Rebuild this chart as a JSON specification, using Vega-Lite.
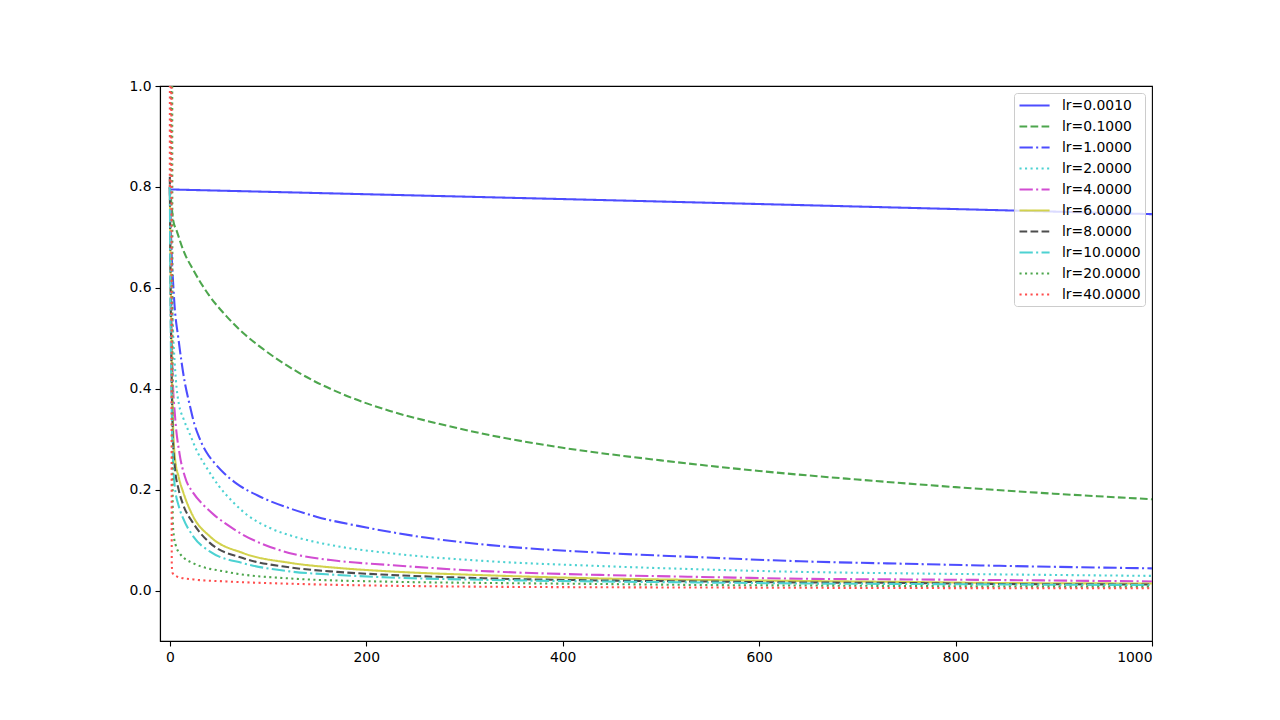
{
  "$schema": "https://vega.github.io/schema/vega-lite/v6.json",
  "width": 992,
  "height": 555,
  "autosize": {"type": "none"},
  "padding": {"left": 160, "top": 86, "right": 128, "bottom": 79},
  "background": "white",
  "config": {
    "view": {"stroke": "black", "strokeWidth": 1.1},
    "font": "DejaVu Sans",
    "axis": {
      "grid": false, "domainColor": "black", "domainWidth": 1.1, "tickColor": "black",
      "tickSize": 5, "tickWidth": 1.1, "labelColor": "black", "labelFontSize": 13.9,
      "labelFont": "DejaVu Sans", "labelPadding": 4, "title": null
    },
    "legend": {
      "orient": "top-right", "offset": 7, "padding": 4, "fillColor": "rgba(255,255,255,0.8)",
      "strokeColor": "#cccccc", "cornerRadius": 3, "symbolType": "M-1,0H3.3", "symbolSize": 196,
      "symbolStrokeWidth": 2.08, "labelFontSize": 13.9, "labelFont": "DejaVu Sans",
      "labelColor": "black", "labelOffset": 27, "rowPadding": 5, "title": null, "labelLimit": 200
    }
  },
  "data": {"values": [
    {"lr":"lr=0.0010","x":0,"y":0.795},{"lr":"lr=0.0010","x":500,"y":0.771},{"lr":"lr=0.0010","x":1000,"y":0.746},

    {"lr":"lr=0.1000","x":0,"y":0.80},{"lr":"lr=0.1000","x":1,"y":0.78},{"lr":"lr=0.1000","x":3.4,"y":0.734},
    {"lr":"lr=0.1000","x":7,"y":0.713},{"lr":"lr=0.1000","x":13.6,"y":0.675},{"lr":"lr=0.1000","x":24,"y":0.635},
    {"lr":"lr=0.1000","x":40,"y":0.585},{"lr":"lr=0.1000","x":58,"y":0.543},{"lr":"lr=0.1000","x":75,"y":0.51},
    {"lr":"lr=0.1000","x":92,"y":0.483},{"lr":"lr=0.1000","x":132,"y":0.431},{"lr":"lr=0.1000","x":175,"y":0.39},
    {"lr":"lr=0.1000","x":224,"y":0.356},{"lr":"lr=0.1000","x":275,"y":0.33},{"lr":"lr=0.1000","x":326,"y":0.308},
    {"lr":"lr=0.1000","x":400,"y":0.283},{"lr":"lr=0.1000","x":500,"y":0.258},{"lr":"lr=0.1000","x":600,"y":0.237},
    {"lr":"lr=0.1000","x":700,"y":0.22},{"lr":"lr=0.1000","x":800,"y":0.205},{"lr":"lr=0.1000","x":900,"y":0.192},
    {"lr":"lr=0.1000","x":1000,"y":0.181},

    {"lr":"lr=1.0000","x":0,"y":0.80},{"lr":"lr=1.0000","x":1,"y":0.72},{"lr":"lr=1.0000","x":2,"y":0.66},
    {"lr":"lr=1.0000","x":3.4,"y":0.609},{"lr":"lr=1.0000","x":5,"y":0.56},{"lr":"lr=1.0000","x":8.5,"y":0.503},
    {"lr":"lr=1.0000","x":15,"y":0.415},{"lr":"lr=1.0000","x":20,"y":0.37},{"lr":"lr=1.0000","x":25,"y":0.33},
    {"lr":"lr=1.0000","x":30,"y":0.303},{"lr":"lr=1.0000","x":37,"y":0.275},{"lr":"lr=1.0000","x":45,"y":0.254},
    {"lr":"lr=1.0000","x":55,"y":0.233},{"lr":"lr=1.0000","x":68,"y":0.212},{"lr":"lr=1.0000","x":92,"y":0.186},
    {"lr":"lr=1.0000","x":122,"y":0.163},{"lr":"lr=1.0000","x":150,"y":0.146},{"lr":"lr=1.0000","x":200,"y":0.125},
    {"lr":"lr=1.0000","x":260,"y":0.105},{"lr":"lr=1.0000","x":326,"y":0.09},{"lr":"lr=1.0000","x":438,"y":0.075},
    {"lr":"lr=1.0000","x":540,"y":0.066},{"lr":"lr=1.0000","x":642,"y":0.058},{"lr":"lr=1.0000","x":750,"y":0.053},
    {"lr":"lr=1.0000","x":845,"y":0.049},{"lr":"lr=1.0000","x":1000,"y":0.044},

    {"lr":"lr=2.0000","x":0,"y":0.80},{"lr":"lr=2.0000","x":1,"y":0.70},{"lr":"lr=2.0000","x":2,"y":0.60},
    {"lr":"lr=2.0000","x":3,"y":0.53},{"lr":"lr=2.0000","x":5,"y":0.45},{"lr":"lr=2.0000","x":7,"y":0.40},
    {"lr":"lr=2.0000","x":9.2,"y":0.37},{"lr":"lr=2.0000","x":14,"y":0.34},{"lr":"lr=2.0000","x":20.4,"y":0.31},
    {"lr":"lr=2.0000","x":28,"y":0.275},{"lr":"lr=2.0000","x":37,"y":0.245},{"lr":"lr=2.0000","x":50,"y":0.207},
    {"lr":"lr=2.0000","x":65,"y":0.174},{"lr":"lr=2.0000","x":80,"y":0.148},{"lr":"lr=2.0000","x":102,"y":0.124},
    {"lr":"lr=2.0000","x":132,"y":0.104},{"lr":"lr=2.0000","x":170,"y":0.088},{"lr":"lr=2.0000","x":224,"y":0.074},
    {"lr":"lr=2.0000","x":326,"y":0.058},{"lr":"lr=2.0000","x":438,"y":0.0486},{"lr":"lr=2.0000","x":540,"y":0.042},
    {"lr":"lr=2.0000","x":642,"y":0.037},{"lr":"lr=2.0000","x":750,"y":0.034},{"lr":"lr=2.0000","x":845,"y":0.032},
    {"lr":"lr=2.0000","x":1000,"y":0.029},

    {"lr":"lr=4.0000","x":0,"y":0.80},{"lr":"lr=4.0000","x":1,"y":0.65},{"lr":"lr=4.0000","x":2,"y":0.50},
    {"lr":"lr=4.0000","x":3,"y":0.42},{"lr":"lr=4.0000","x":5.1,"y":0.351},{"lr":"lr=4.0000","x":10,"y":0.27},
    {"lr":"lr=4.0000","x":15.3,"y":0.226},{"lr":"lr=4.0000","x":24,"y":0.193},{"lr":"lr=4.0000","x":34,"y":0.17},
    {"lr":"lr=4.0000","x":45,"y":0.15},{"lr":"lr=4.0000","x":58,"y":0.131},{"lr":"lr=4.0000","x":75,"y":0.11},
    {"lr":"lr=4.0000","x":92,"y":0.094},{"lr":"lr=4.0000","x":127,"y":0.072},{"lr":"lr=4.0000","x":170,"y":0.059},
    {"lr":"lr=4.0000","x":224,"y":0.0505},{"lr":"lr=4.0000","x":326,"y":0.038},{"lr":"lr=4.0000","x":438,"y":0.031},
    {"lr":"lr=4.0000","x":540,"y":0.027},{"lr":"lr=4.0000","x":642,"y":0.0234},{"lr":"lr=4.0000","x":750,"y":0.022},
    {"lr":"lr=4.0000","x":845,"y":0.0208},{"lr":"lr=4.0000","x":1000,"y":0.018},

    {"lr":"lr=6.0000","x":0,"y":0.80},{"lr":"lr=6.0000","x":1,"y":0.60},{"lr":"lr=6.0000","x":2,"y":0.45},
    {"lr":"lr=6.0000","x":3,"y":0.35},{"lr":"lr=6.0000","x":5.1,"y":0.265},{"lr":"lr=6.0000","x":9,"y":0.225},
    {"lr":"lr=6.0000","x":13.6,"y":0.195},{"lr":"lr=6.0000","x":24,"y":0.146},{"lr":"lr=6.0000","x":41,"y":0.107},
    {"lr":"lr=6.0000","x":75,"y":0.074},{"lr":"lr=6.0000","x":122,"y":0.055},{"lr":"lr=6.0000","x":170,"y":0.045},
    {"lr":"lr=6.0000","x":224,"y":0.038},{"lr":"lr=6.0000","x":326,"y":0.030},{"lr":"lr=6.0000","x":438,"y":0.024},
    {"lr":"lr=6.0000","x":540,"y":0.021},{"lr":"lr=6.0000","x":642,"y":0.019},{"lr":"lr=6.0000","x":750,"y":0.017},
    {"lr":"lr=6.0000","x":845,"y":0.015},{"lr":"lr=6.0000","x":1000,"y":0.014},

    {"lr":"lr=8.0000","x":0,"y":0.82},{"lr":"lr=8.0000","x":1,"y":0.55},{"lr":"lr=8.0000","x":2,"y":0.40},
    {"lr":"lr=8.0000","x":3,"y":0.31},{"lr":"lr=8.0000","x":5.1,"y":0.245},{"lr":"lr=8.0000","x":9,"y":0.20},
    {"lr":"lr=8.0000","x":13.6,"y":0.17},{"lr":"lr=8.0000","x":24,"y":0.133},{"lr":"lr=8.0000","x":41,"y":0.094},
    {"lr":"lr=8.0000","x":75,"y":0.064},{"lr":"lr=8.0000","x":122,"y":0.046},{"lr":"lr=8.0000","x":170,"y":0.037},
    {"lr":"lr=8.0000","x":224,"y":0.031},{"lr":"lr=8.0000","x":326,"y":0.024},{"lr":"lr=8.0000","x":438,"y":0.02},
    {"lr":"lr=8.0000","x":540,"y":0.018},{"lr":"lr=8.0000","x":642,"y":0.016},{"lr":"lr=8.0000","x":750,"y":0.015},
    {"lr":"lr=8.0000","x":845,"y":0.013},{"lr":"lr=8.0000","x":1000,"y":0.012},

    {"lr":"lr=10.0000","x":0,"y":0.80},{"lr":"lr=10.0000","x":1,"y":0.50},{"lr":"lr=10.0000","x":2,"y":0.35},
    {"lr":"lr=10.0000","x":3,"y":0.27},{"lr":"lr=10.0000","x":5.1,"y":0.206},{"lr":"lr=10.0000","x":9,"y":0.168},
    {"lr":"lr=10.0000","x":13.6,"y":0.143},{"lr":"lr=10.0000","x":24,"y":0.107},{"lr":"lr=10.0000","x":41,"y":0.077},
    {"lr":"lr=10.0000","x":75,"y":0.054},{"lr":"lr=10.0000","x":122,"y":0.038},{"lr":"lr=10.0000","x":170,"y":0.031},
    {"lr":"lr=10.0000","x":224,"y":0.026},{"lr":"lr=10.0000","x":326,"y":0.021},{"lr":"lr=10.0000","x":438,"y":0.018},
    {"lr":"lr=10.0000","x":540,"y":0.016},{"lr":"lr=10.0000","x":642,"y":0.014},{"lr":"lr=10.0000","x":750,"y":0.013},
    {"lr":"lr=10.0000","x":845,"y":0.012},{"lr":"lr=10.0000","x":1000,"y":0.011},

    {"lr":"lr=20.0000","x":0,"y":0.80},{"lr":"lr=20.0000","x":1,"y":0.85},{"lr":"lr=20.0000","x":2,"y":1.6},
    {"lr":"lr=20.0000","x":3,"y":0.14},{"lr":"lr=20.0000","x":4,"y":0.11},{"lr":"lr=20.0000","x":6,"y":0.09},
    {"lr":"lr=20.0000","x":10,"y":0.074},{"lr":"lr=20.0000","x":24,"y":0.054},{"lr":"lr=20.0000","x":58,"y":0.037},
    {"lr":"lr=20.0000","x":122,"y":0.024},{"lr":"lr=20.0000","x":224,"y":0.0175},{"lr":"lr=20.0000","x":326,"y":0.015},
    {"lr":"lr=20.0000","x":438,"y":0.013},{"lr":"lr=20.0000","x":540,"y":0.011},{"lr":"lr=20.0000","x":642,"y":0.01},
    {"lr":"lr=20.0000","x":750,"y":0.009},{"lr":"lr=20.0000","x":845,"y":0.008},{"lr":"lr=20.0000","x":1000,"y":0.0075},

    {"lr":"lr=40.0000","x":0,"y":0.80},{"lr":"lr=40.0000","x":1,"y":3.0},{"lr":"lr=40.0000","x":2,"y":0.05},
    {"lr":"lr=40.0000","x":3,"y":0.034},{"lr":"lr=40.0000","x":10,"y":0.026},{"lr":"lr=40.0000","x":24,"y":0.022},
    {"lr":"lr=40.0000","x":58,"y":0.018},{"lr":"lr=40.0000","x":132,"y":0.013},{"lr":"lr=40.0000","x":224,"y":0.0095},
    {"lr":"lr=40.0000","x":326,"y":0.0075},{"lr":"lr=40.0000","x":438,"y":0.0065},{"lr":"lr=40.0000","x":540,"y":0.006},
    {"lr":"lr=40.0000","x":642,"y":0.0055},{"lr":"lr=40.0000","x":750,"y":0.005},{"lr":"lr=40.0000","x":845,"y":0.0047},
    {"lr":"lr=40.0000","x":1000,"y":0.0044}
  ]},
  "mark": {"type": "line", "clip": true, "strokeWidth": 2.08, "interpolate": "monotone"},
  "encoding": {
    "x": {"field": "x", "type": "quantitative", "scale": {"domain": [-10, 1000], "nice": false, "zero": false},
          "axis": {"values": [0, 200, 400, 600, 800, 1000], "format": "d"}},
    "y": {"field": "y", "type": "quantitative", "scale": {"domain": [-0.1, 1.0], "nice": false, "zero": false},
          "axis": {"values": [0, 0.2, 0.4, 0.6, 0.8, 1.0], "format": ".1f"}},
    "color": {"field": "lr", "type": "nominal",
      "scale": {"domain": ["lr=0.0010","lr=0.1000","lr=1.0000","lr=2.0000","lr=4.0000","lr=6.0000","lr=8.0000","lr=10.0000","lr=20.0000","lr=40.0000"],
                "range": ["#4d4dff","#4da64d","#4d4dff","#4dd2d2","#d24dd2","#d2d24d","#4d4d4d","#4dd2d2","#4da64d","#ff4d4d"]}},
    "strokeDash": {"field": "lr", "type": "nominal",
      "scale": {"domain": ["lr=0.0010","lr=0.1000","lr=1.0000","lr=2.0000","lr=4.0000","lr=6.0000","lr=8.0000","lr=10.0000","lr=20.0000","lr=40.0000"],
                "range": [[1,0],[7.7,3.33],[13.3,3.33,2.08,3.33],[2.08,3.44],[13.3,3.33,2.08,3.33],[1,0],[7.7,3.33],[13.3,3.33,2.08,3.33],[2.08,3.44],[2.08,3.44]]}},
    "order": {"field": "x", "type": "quantitative"}
  }
}
